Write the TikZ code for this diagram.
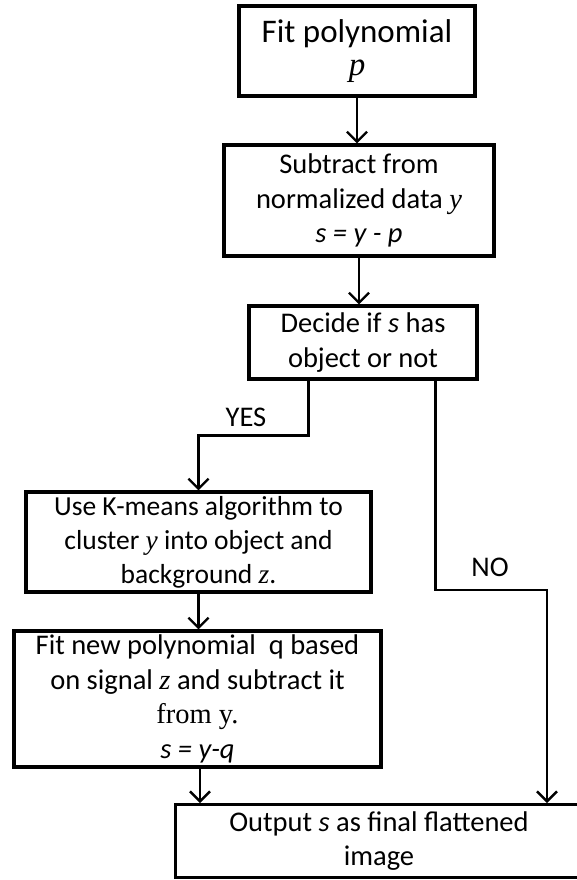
\documentclass[tikz,border=0pt]{standalone}
\usepackage{fontspec}
\setmainfont{Carlito}
\newfontfamily\cam{Liberation Serif}
\usetikzlibrary{arrows.meta,calc}
\tikzset{
  box/.style={draw, line width=3.2pt, align=center, inner sep=0pt, font=\fontsize{28.5}{34.5}\selectfont},
  arr/.style={line width=2.4pt, -{Straight Barb[length=10pt,width=20pt,line width=2.4pt]}},
  lbl/.style={font=\fontsize{28.5}{34.5}\selectfont, inner sep=0pt, align=center}
}
\newcommand{\mv}[1]{{\cam\itshape #1}}
\begin{document}
\begin{tikzpicture}[x=1pt,y=-1pt]
\useasboundingbox (0,0) rectangle (576,880);
\node[box, minimum width=236pt, minimum height=90pt, font=\fontsize{33}{34}\selectfont] (b1) at (357,51) {Fit polynomial\\[-1pt]\mv{p}};
\node[box, minimum width=270pt, minimum height=111pt] (b2) at (359,200.5) {Subtract from\\normalized data \mv{y}\\\textit{s = y - p}};
\node[box, minimum width=228pt, minimum height=73pt] (b3) at (363,342.5) {Decide if \textit{s} has\\object or not};
\node[box, minimum width=345pt, minimum height=100pt, font=\fontsize{27.5}{34}\selectfont] (b4) at (198.5,542) {Use K-means algorithm to\\cluster \mv{y} into object and\\background \mv{z}.};
\node[box, minimum width=367pt, minimum height=136pt] (b5) at (197.5,699) {Fit new polynomial\ \ q based\\on signal \mv{z} and subtract it\\{\cam from y.}\\\textit{s = y-q}};
\node[box, minimum width=427pt, minimum height=73pt, anchor=north west] (b6) at (174,803) {};
\node[lbl] (b6t) at (379,841) {Output \textit{s} as final flattened\\image};

\draw[arr] (b1.south) -- (b1.south |- b2.north);
\draw[arr] (b2.south) -- (b2.south |- b3.north);
\coordinate (yesstart) at ($(b3.south west)+(61,0)$);
\coordinate (nostart) at ($(b3.south east)+(-43,0)$);
\coordinate (nocorner) at (547,590);
\draw[arr] (yesstart) -- ++(0,55) -| (b4.north);
\draw[arr] (nostart) |- (nocorner) -- (nocorner |- b6.north);
\draw[arr] (b4.south) -- (b4.south |- b5.north);
\coordinate (b5out) at ($(b5.south)+(2.5,0)$);
\draw[arr] (b5out) -- (b5out |- b6.north);
\node[lbl] (yes) at (246,417) {YES};
\node[lbl] (no) at (490,567) {NO};
\end{tikzpicture}
\end{document}
